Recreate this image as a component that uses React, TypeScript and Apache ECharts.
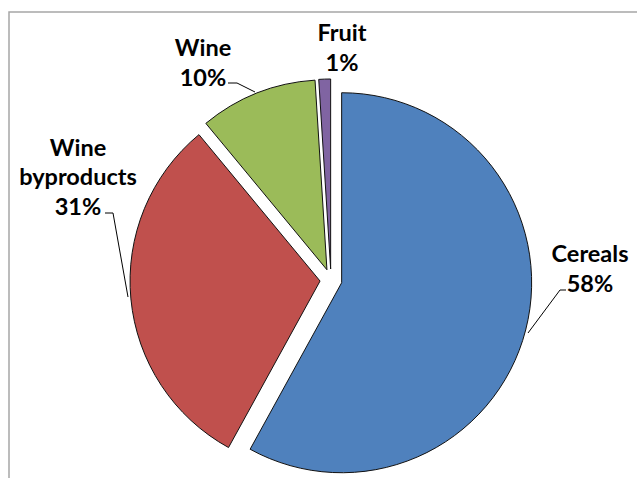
import React, { useEffect, useRef } from "react";
import * as echarts from "echarts";

const categories = ["Cereals", "Wine byproducts", "Wine", "Fruit"];
const shares = [58, 31, 10, 1];
const sliceColors = ["#4F81BD", "#C0504D", "#9BBB59", "#8064A2"];

// label layout (positions only)
const labelSpots: [number, number][] = [
  [590, 268],
  [78, 176],
  [203, 62],
  [342, 47],
];
const leaderPoints: number[][][] = [
  [[528, 333], [560, 290], [566, 290]],
  [[128, 297], [113, 213], [105, 213]],
  [[255, 92], [237, 83], [228, 83]],
  [],
];

export default function App() {
  const ref = useRef<HTMLDivElement>(null);
  useEffect(() => {
    if (!ref.current) return;
    const chart = echarts.init(ref.current, undefined, { renderer: "svg" });
    const pieData = categories.map((c, i) => ({
      name: c,
      value: shares[i],
    }));
    chart.setOption({
      animation: false,
      backgroundColor: "#ffffff",
      graphic: [
        {
          type: "rect",
          shape: { x: 9, y: 12, width: 700, height: 600 },
          style: { fill: "none", stroke: "#A6A6A6", lineWidth: 1.5 },
          silent: true,
        },
      ],
      series: [
        {
          type: "pie",
          center: [331, 280],
          radius: [0, 190],
          startAngle: 90,
          clockwise: true,
          selectedMode: "multiple",
          selectedOffset: 11,
          itemStyle: { borderColor: "#111", borderWidth: 1 },
          label: { show: false },
          labelLine: { show: false },
          emphasis: { disabled: true },
          data: pieData.map((d, i) => ({
            ...d,
            selected: true,
            itemStyle: { color: sliceColors[i] },
          })),
        },
        {
          type: "pie",
          center: [331, 280],
          radius: [0, 190],
          startAngle: 90,
          clockwise: true,
          silent: true,
          selectedMode: false,
          avoidLabelOverlap: false,
          itemStyle: { color: "rgba(0,0,0,0)", borderWidth: 0 },
          label: {
            show: true,
            position: "outside",
            formatter: (p: any) =>
              `${String(p.name).replace(" ", "\n")}\n${Math.round(p.percent)}%`,
            fontFamily: "Lato",
            fontWeight: "bold",
            fontSize: 23.5,
            lineHeight: 29.5,
            color: "#000",
            align: "center",
          },
          labelLine: { show: true, lineStyle: { color: "#000", width: 1 } },
          labelLayout: (params: any) => {
            const s = labelSpots[params.dataIndex];
            const pts = leaderPoints[params.dataIndex];
            const o: any = { x: s[0], y: s[1], align: "center", verticalAlign: "middle" };
            if (pts.length) o.labelLinePoints = pts;
            return o;
          },
          emphasis: { disabled: true },
          data: pieData.map((d, i) => ({
            ...d,
            labelLine: { show: i !== 3 },
          })),
        },
      ],
    });
    return () => chart.dispose();
  }, []);
  return (
    <div
      ref={ref}
      style={{ position: "fixed", left: 0, top: 0, width: 637, height: 478 }}
    />
  );
}
